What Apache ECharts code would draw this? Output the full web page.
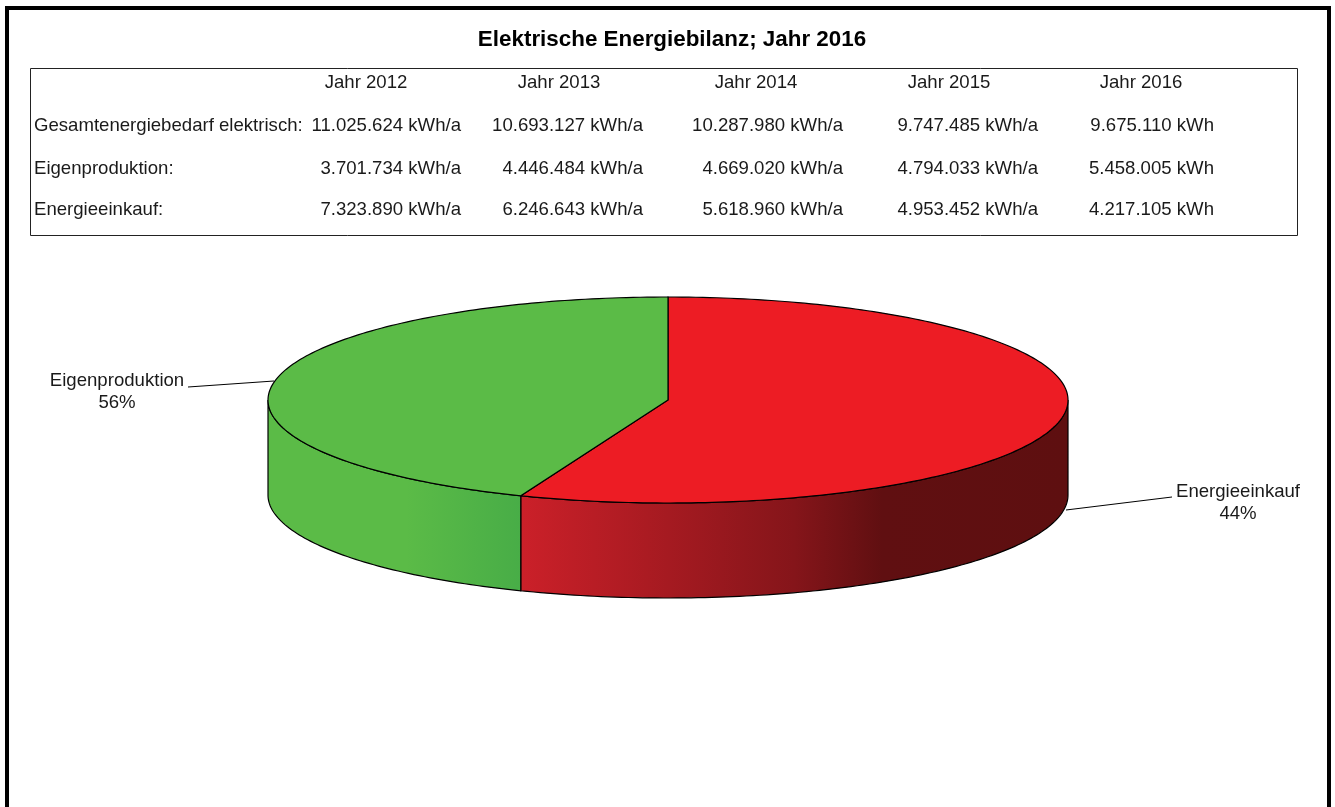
<!DOCTYPE html>
<html>
<head>
<meta charset="utf-8">
<title>Elektrische Energiebilanz; Jahr 2016</title>
<style>
  html, body { margin: 0; padding: 0; background: #fff; }
  #chart { width: 1335px; height: 807px; }
</style>
<script src="https://cdn.jsdelivr.net/npm/echarts@6/dist/echarts.min.js"></script>
</head>
<body>
<div id="chart"></div>
<script>
// Balance table
const chartTitle = 'Elektrische Energiebilanz; Jahr 2016';
const years = ['Jahr 2012', 'Jahr 2013', 'Jahr 2014', 'Jahr 2015', 'Jahr 2016'];
const rowNames = ['Gesamtenergiebedarf elektrisch:', 'Eigenproduktion:', 'Energieeinkauf:'];
const totalDemand = ['11.025.624 kWh/a', '10.693.127 kWh/a', '10.287.980 kWh/a', '9.747.485 kWh/a', '9.675.110 kWh'];
const ownProduction = ['3.701.734 kWh/a', '4.446.484 kWh/a', '4.669.020 kWh/a', '4.794.033 kWh/a', '5.458.005 kWh'];
const purchased = ['7.323.890 kWh/a', '6.246.643 kWh/a', '5.618.960 kWh/a', '4.953.452 kWh/a', '4.217.105 kWh'];

// Pie wedges, clockwise from twelve o'clock. The captions are printed crosswise:
// the red 56 wedge carries the 44% caption and the green 44 wedge the 56% one.
const wedgeShares = [56, 44];
const captionNames = ['Energieeinkauf', 'Eigenproduktion'];
const captionShares = [44, 56];

// Layout
const FONT = '"Liberation Sans", Arial, sans-serif';
const PIE = { cx: 668, cy: 400, rx: 400, ry: 103, depth: 95 };
const yearCentres = [366, 559, 756, 949, 1141];
const valueRights = [461, 643, 843, 1038, 1214];
const rowTops = [83, 126, 169, 210];
const captionSpots = [
  { x: 1238, y: 503, from: [1172, 497], to: [1066, 510] },
  { x: 117, y: 392, from: [188, 387], to: [274, 381] }
];

const shareTotal = wedgeShares.reduce((a, b) => a + b, 0);

// Point on the disc's rim; degrees run clockwise from the top, drop moves it down the wall.
function rim(deg, drop) {
  const t = deg * Math.PI / 180;
  return [PIE.cx + PIE.rx * Math.sin(t), PIE.cy - PIE.ry * Math.cos(t) + (drop || 0)];
}

function arc(from, to, drop) {
  const pts = [];
  const steps = Math.max(2, Math.ceil(Math.abs(to - from)));
  for (let i = 0; i <= steps; i++) pts.push(rim(from + (to - from) * i / steps, drop));
  return pts;
}

// The wall shading runs horizontally and starts at the seam between the wedges.
const seamX = rim(wedgeShares[0] / shareTotal * 360)[0];
const leftEdge = PIE.cx - PIE.rx;
const rightEdge = PIE.cx + PIE.rx;

const topColours = ['#ED1C24', '#5BBB47'];
const wallColours = [
  new echarts.graphic.LinearGradient(seamX, 0, rightEdge, 0, [
    { offset: 0, color: '#CB2029' },
    { offset: 0.5, color: '#85151A' },
    { offset: 0.66, color: '#600F11' },
    { offset: 1, color: '#5E0F10' }
  ], true),
  new echarts.graphic.LinearGradient(leftEdge, 0, seamX, 0, [
    { offset: 0, color: '#5BBB47' },
    { offset: 0.55, color: '#5BBB47' },
    { offset: 1, color: '#48AD47' }
  ], true)
];

function renderWedge(params, api) {
  const share = api.value(0);
  let before = 0;
  for (let i = 0; i < params.dataIndex; i++) before += wedgeShares[i];
  const start = before / shareTotal * 360;
  const end = start + share / shareTotal * 360;
  const children = [];

  // Only the front half of the rim has a visible wall.
  const wallFrom = Math.max(start, 90);
  const wallTo = Math.min(end, 270);
  if (wallTo > wallFrom) {
    children.push({
      type: 'polygon',
      shape: { points: arc(wallFrom, wallTo, 0).concat(arc(wallTo, wallFrom, PIE.depth)) },
      style: { fill: wallColours[params.dataIndex], stroke: '#000', lineWidth: 1.2 }
    });
  }
  children.push({
    type: 'polygon',
    shape: { points: [[PIE.cx, PIE.cy]].concat(arc(start, end, 0)) },
    style: { fill: topColours[params.dataIndex], stroke: '#000', lineWidth: 1.2 }
  });
  return { type: 'group', children };
}

function textEl(text, x, y, align, extra) {
  return {
    type: 'text', x, y, silent: true,
    style: Object.assign({
      text, align, verticalAlign: 'middle', fill: '#1a1a1a',
      font: '18.6px ' + FONT, lineHeight: 22
    }, extra || {})
  };
}

const tableEls = [];
years.forEach((y, i) => tableEls.push(textEl(y, yearCentres[i], rowTops[0], 'center')));
[totalDemand, ownProduction, purchased].forEach((row, r) => {
  tableEls.push(textEl(rowNames[r], 34, rowTops[r + 1], 'left'));
  row.forEach((v, i) => tableEls.push(textEl(v, valueRights[i], rowTops[r + 1], 'right')));
});

const captionEls = [];
captionNames.forEach((name, i) => {
  const s = captionSpots[i];
  captionEls.push(textEl(name + '\n' + captionShares[i] + '%', s.x, s.y, 'center'));
  captionEls.push({
    type: 'line', silent: true,
    shape: { x1: s.from[0], y1: s.from[1], x2: s.to[0], y2: s.to[1] },
    style: { stroke: '#000', lineWidth: 1 }
  });
});

const chart = echarts.init(document.getElementById('chart'), null, { renderer: 'canvas' });
chart.setOption({
  animation: false,
  backgroundColor: '#fff',
  title: {
    text: chartTitle, left: 672, top: 40, textAlign: 'center', textVerticalAlign: 'middle',
    padding: 0,
    textStyle: { fontFamily: FONT, fontSize: 22.4, fontWeight: 'bold', color: '#000' }
  },
  graphic: [
    {
      type: 'rect', silent: true,
      shape: { x: 7, y: 8, width: 1322, height: 820 },
      style: { fill: 'none', stroke: '#000', lineWidth: 4 }
    },
    {
      type: 'rect', silent: true,
      shape: { x: 30.5, y: 68.5, width: 1267, height: 167 },
      style: { fill: 'none', stroke: '#222', lineWidth: 1 }
    }
  ].concat(tableEls, captionEls),
  series: [{
    type: 'custom',
    coordinateSystem: 'none',
    renderItem: renderWedge,
    data: wedgeShares.map(v => [v])
  }]
});
</script>
</body>
</html>
